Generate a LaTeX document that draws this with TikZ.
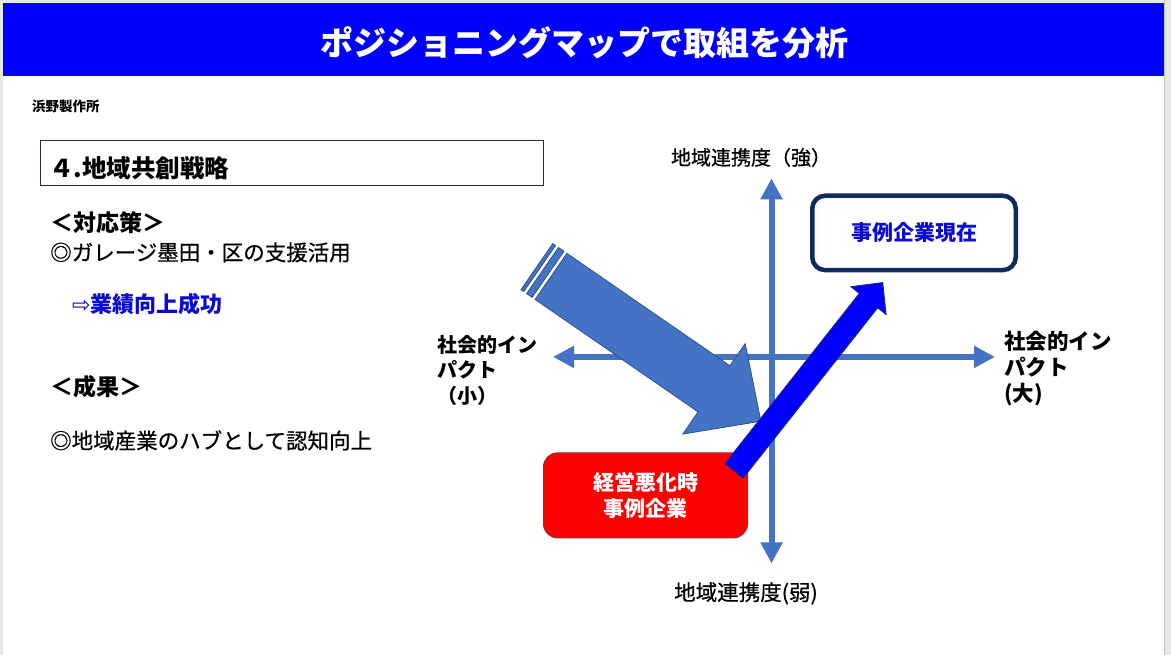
\documentclass[tikz,border=0pt]{standalone}
\usepackage{fontspec}
\setmainfont{Noto Sans CJK JP}
\newfontfamily\jpmed[FakeBold=0.6]{Noto Sans CJK JP}
\newfontfamily\dejavu{DejaVu Sans}
\usetikzlibrary{arrows.meta}
\definecolor{axisblue}{HTML}{4472C4}
\definecolor{arrowline}{HTML}{2F528F}
\definecolor{navy}{HTML}{0F2A5C}
\definecolor{pureblue}{HTML}{0000FF}
\definecolor{textblue}{HTML}{0A0AD2}
\definecolor{framegray}{HTML}{E6E8EB}
\definecolor{boxline}{HTML}{1F2F3F}
\definecolor{redline}{HTML}{8B2F3F}
\definecolor{darkblueline}{HTML}{1F2A6E}
\begin{document}
\begin{tikzpicture}[x=1pt,y=-1pt,
  lefttxt/.style={inner sep=0pt, anchor=west, font=\jpmed\fontsize{21.5}{26}\selectfont},
  boldtxt/.style={inner sep=0pt, anchor=west, font=\fontsize{23}{28}\selectfont\bfseries},
  axislabel/.style={inner sep=0pt, font=\jpmed\fontsize{20}{24}\selectfont},
  impactlabel/.style={inner sep=0pt, anchor=west, align=left, font=\fontsize{20}{25.5}\selectfont\bfseries},
  axisline/.style={axisblue, line width=6pt, {Triangle[width=21pt,length=21pt]}-{Triangle[width=21pt,length=21pt]}},
  bigarrow/.style={fill=axisblue, draw=arrowline, line width=0.8pt, line join=miter},
  bluearrow/.style={fill=pureblue, draw=darkblueline, line width=0.8pt, line join=miter}
]
% frame and slide
\fill[framegray] (0,0) rectangle (1171,655);
\fill[white] (3,3) rectangle (1164,655);
\draw[gray!50, line width=0.8pt] (1164,0) -- (1164,655);
% title banner
\fill[pureblue] (3,3) rectangle (1164,76);
\node (title) [inner sep=0pt, text=white, font=\fontsize{33}{40}\selectfont\bfseries] at (584,42) {ポジショニングマップで取組を分析};

% left side texts
\node (company) [inner sep=0pt, anchor=west, font=\fontsize{13.5}{16}\selectfont\bfseries] at (32,106) {浜野製作所};
\node (hbox) [draw=boxline, line width=1pt, anchor=north west, minimum width=503pt, minimum height=45pt, inner sep=0pt] at (40,140) {};
\node (heading) [inner sep=0pt, anchor=west, font=\fontsize{24.5}{28}\selectfont\bfseries] at (49,168) {４.地域共創戦略};
\node (measures) [boldtxt] at (50,222) {＜対応策＞};
\node (garage) [lefttxt] at (50,252) {◎ガレージ墨田・区の支援活用};
\node (success) [inner sep=0pt, anchor=west, text=textblue, font=\fontsize{22}{26}\selectfont\bfseries] at (72,304) {{\dejavu\mdseries ⇨}業績向上成功};
\node (results) [boldtxt] at (50,386) {＜成果＞};
\node (hub) [lefttxt] at (50,440) {◎地域産業のハブとして認知向上};

% axes
\coordinate (vt) at (771.5,178);
\coordinate (vb) at (771.5,563);
\coordinate (hl) at (553,356.5);
\coordinate (hr) at (995,356.5);
\draw[axisline] (vb) -- (vt);
\draw[axisline] (hl) -- (hr);

% axis labels
\node (strong) [axislabel] at (751,157) {地域連携度（強）};
\node (weak) [axislabel, font=\jpmed\fontsize{21.5}{24}\selectfont] at (746,593) {地域連携度(弱)};
\node (small) [impactlabel] at (437,370) {社会的イン\\パクト\\（小）};
\node (large) [impactlabel, font=\fontsize{21.5}{26}\selectfont\bfseries] at (1004,368) {社会的イン\\パクト\\(大)};

% striped block arrow
\begin{scope}[shift={(551,276)}, rotate=-34.6]
  \draw[bigarrow] (-17.2,-28) rectangle (-13.8,28);
  \draw[bigarrow] (-10.3,-28) rectangle (-3.6,28);
  \draw[bigarrow] (0,-28) -- (198,-28) -- (198,-55) -- (255,0) -- (198,55) -- (198,28) -- (0,28) -- cycle;
\end{scope}

% boxes
\node (before) [draw=redline, line width=1pt, fill=red, rounded corners=14pt, minimum width=204pt, minimum height=85pt, inner sep=0pt, text=white, align=center, font=\fontsize{21}{26}\selectfont\bfseries] at (645.5,495) {経営悪化時\\事例企業};
\node (now) [draw=navy, line width=4.5pt, rounded corners=13pt, minimum width=203.5pt, minimum height=74.5pt, inner sep=0pt, text=textblue, font=\fontsize{21}{24}\selectfont\bfseries] at (914,232.5) {事例企業現在};

% blue block arrow
\begin{scope}[shift={(734,470.5)}, rotate=51.7]
  \draw[bluearrow] (0,-11.7) -- (217,-11.7) -- (217,-22.5) -- (240,0) -- (217,22.5) -- (217,11.7) -- (0,11.7) -- cycle;
\end{scope}
\end{tikzpicture}
\end{document}
